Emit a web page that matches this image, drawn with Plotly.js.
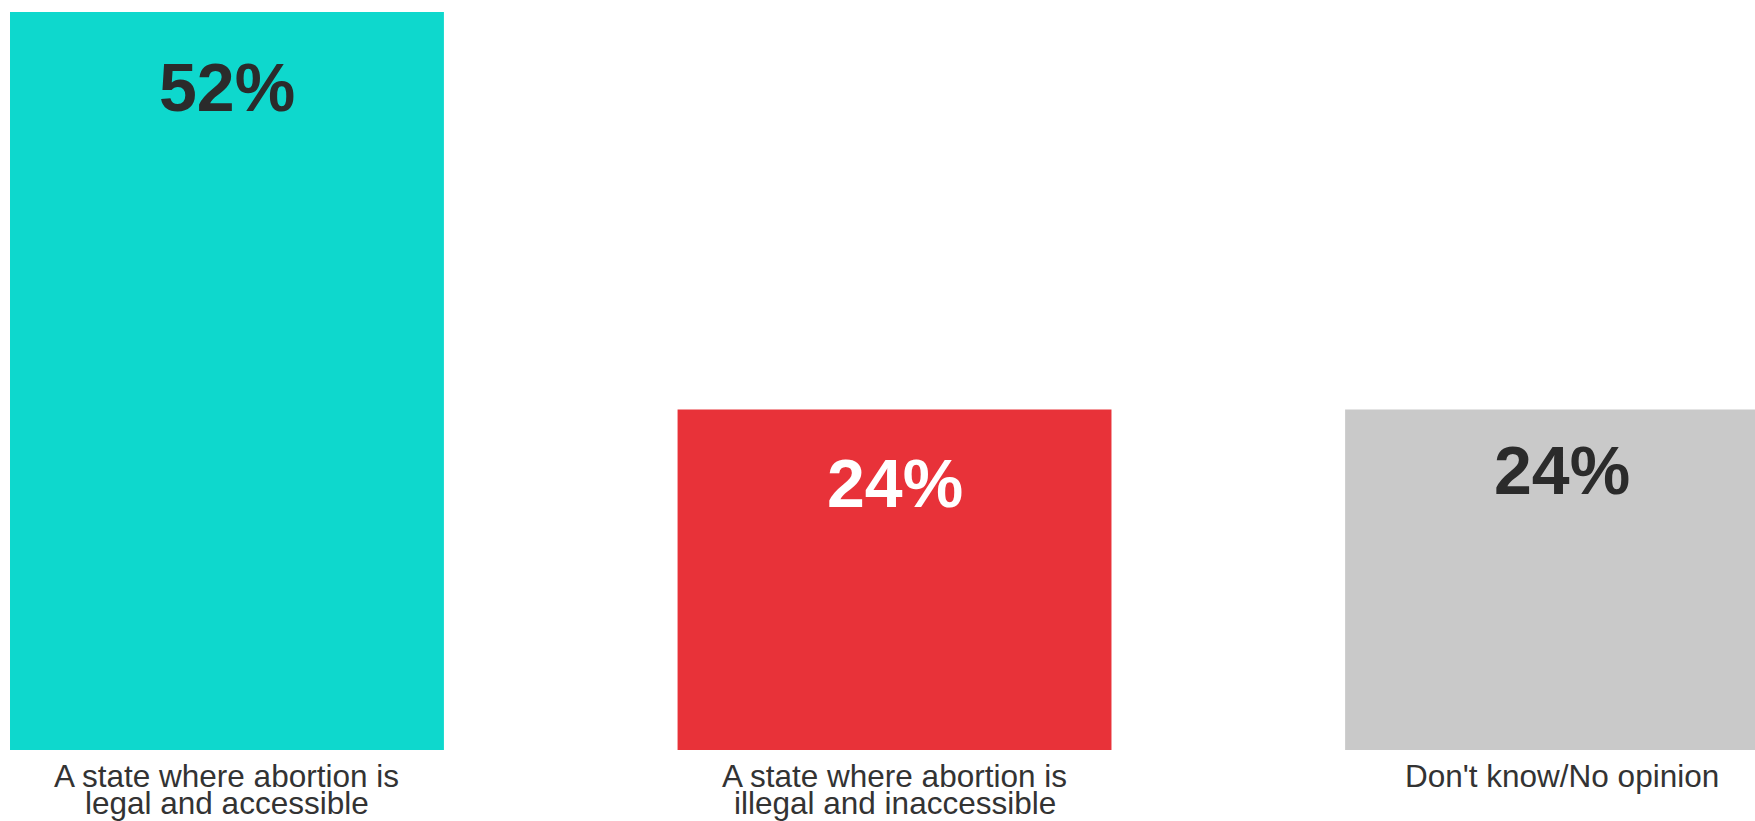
<!DOCTYPE html>
<html>
<head>
<meta charset="utf-8">
<script src="https://cdn.plot.ly/plotly-3.0.1.min.js"></script>
<style>
  html, body { margin: 0; padding: 0; background: #ffffff; }
  #chart { width: 1755px; height: 821px; }
</style>
</head>
<body>
<div id="chart"></div>
<script>
// ---- data ----
const categories = [
  "A state where abortion is legal and accessible",
  "A state where abortion is illegal and inaccessible",
  "Don't know/No opinion"
];
const labelLine1 = ["A state where abortion is", "A state where abortion is", "Don't know/No opinion"];
const labelLine2 = ["legal and accessible", "illegal and inaccessible", ""];
const values = [52, 24, 24];

// ---- styles ----
const barColors = ["#0ED8CD", "#E83239", "#C9C9C9"];
const valueColors = ["#2b2b2b", "#ffffff", "#2b2b2b"];
const valueShift = [-75, -74, -61];
const fontFamily = "Arial, 'Liberation Sans', Helvetica, sans-serif";

const trace = {
  type: "bar",
  x: categories,
  y: values,
  width: 0.65,
  marker: { color: barColors },
  hoverinfo: "none"
};

const annotations = [];
categories.forEach((c, i) => {
  annotations.push({
    x: c, xref: "x", y: values[i], yref: "y",
    text: "<b>" + values[i] + "%</b>",
    showarrow: false, xanchor: "center", yanchor: "middle",
    yshift: valueShift[i],
    font: { family: fontFamily, size: 68, color: valueColors[i] }
  });
  annotations.push({
    x: c, xref: "x", y: 0, yref: "paper",
    text: labelLine1[i],
    showarrow: false, xanchor: "center", yanchor: "middle",
    yshift: -26,
    font: { family: fontFamily, size: 31.5, color: "#333333" }
  });
  if (labelLine2[i]) {
    annotations.push({
      x: c, xref: "x", y: 0, yref: "paper",
      text: labelLine2[i],
      showarrow: false, xanchor: "center", yanchor: "middle",
      yshift: -53,
      font: { family: fontFamily, size: 31.5, color: "#333333" }
    });
  }
});

const layout = {
  width: 1755, height: 821,
  margin: { l: 0, r: 0, t: 12, b: 71, pad: 0 },
  paper_bgcolor: "#ffffff",
  plot_bgcolor: "#ffffff",
  showlegend: false,
  xaxis: {
    type: "category",
    range: [-0.34, 2.289],
    showticklabels: false,
    showgrid: false, zeroline: false, showline: false, ticks: ""
  },
  yaxis: {
    range: [0, 52],
    visible: false,
    showgrid: false, zeroline: false
  },
  annotations: annotations
};

Plotly.newPlot("chart", [trace], layout, { staticPlot: true, displayModeBar: false });
</script>
</body>
</html>
